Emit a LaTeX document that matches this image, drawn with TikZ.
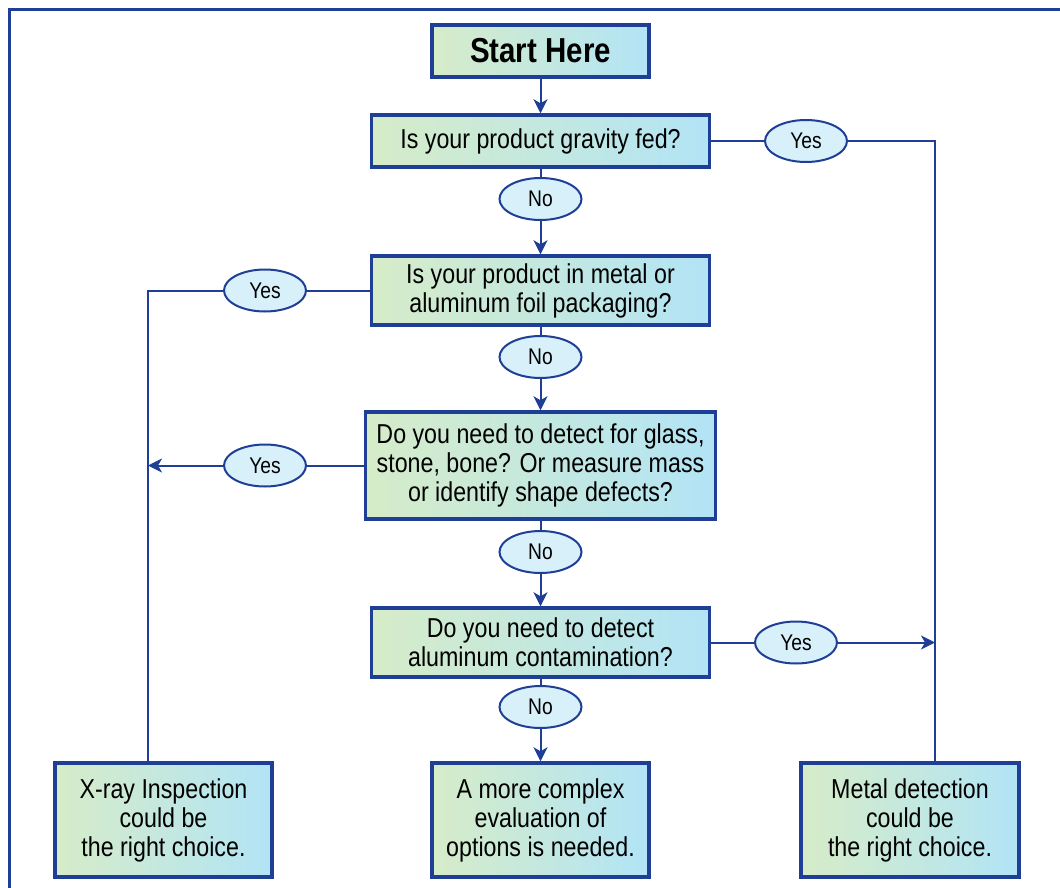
\documentclass[tikz,border=0pt]{standalone}
\usepackage{fontspec}
\setmainfont[FakeStretch=0.85]{Liberation Sans}
\usetikzlibrary{arrows.meta,shapes.geometric}
\definecolor{navy}{RGB}{31,62,150}
\definecolor{boxgreen}{RGB}{214,236,200}
\definecolor{boxblue}{RGB}{178,228,246}
\definecolor{ovalfill}{RGB}{216,240,250}
\tikzset{
  qbox/.style={draw=navy, line width=2.6pt, left color=boxgreen, right color=boxblue,
    shading angle=90, align=center, inner sep=0pt, text=black,
    font=\fontsize{20.5}{21.75}\selectfont},
  ans/.style={ellipse, draw=navy, line width=1.5pt, fill=ovalfill, inner sep=0pt,
    minimum width=61.5pt, minimum height=31.5pt, font=\fontsize{17}{20}\selectfont},
  link/.style={draw=navy, line width=1.5pt},
  arr/.style={link, -{Stealth[length=10.5pt,width=10.5pt,inset=3pt]}}
}
\begin{document}
\begin{tikzpicture}[x=0.75pt,y=-0.75pt]
\useasboundingbox (0,0) rectangle (1060,888);
\draw[navy, line width=2.2pt] (9.5,888) -- (9.5,9.5) -- (1060,9.5);

\node[qbox, minimum width=162.75pt, minimum height=39pt, font=\fontsize{26}{28}\selectfont\bfseries] (start) at (540.5,51) {Start Here};
\node[qbox, minimum width=253.5pt, minimum height=39pt] (q1) at (540.5,141) {Is your product gravity fed?};
\node[qbox, minimum width=253.5pt, minimum height=51.75pt] (q2) at (540.5,290.5) {Is your product in metal or\\aluminum foil packaging?};
\node[qbox, minimum width=262.5pt, minimum height=80.25pt] (q3) at (540.5,465.5) {Do you need to detect for glass,\\stone, bone? Or measure mass\\or identify shape defects?};
\node[qbox, minimum width=253.5pt, minimum height=51.75pt] (q4) at (540.5,642.5) {Do you need to detect\\aluminum contamination?};
\node[qbox, minimum width=162.75pt, minimum height=85.5pt] (xray) at (163.5,820) {X-ray Inspection\\could be\\ the right choice.};
\node[qbox, minimum width=162.75pt, minimum height=85.5pt] (complex) at (540.5,820) {A more complex\\evaluation of\\options is needed.};
\node[qbox, minimum width=163.5pt, minimum height=85.5pt] (metal) at (910,820) {Metal detection\\could be\\ the right choice.};

\node[ans] (yes1) at (806,141) {Yes};
\node[ans] (no1) at (540.5,199) {No};
\node[ans] (yes2) at (265,290.5) {Yes};
\node[ans] (no2) at (540.5,357) {No};
\node[ans] (yes3) at (265,465.5) {Yes};
\node[ans] (no3) at (540.5,552) {No};
\node[ans] (yes4) at (796,642.5) {Yes};
\node[ans] (no4) at (540.5,707) {No};

\coordinate (rc) at (935,141);
\coordinate (lc) at (148,290.5);

\draw[arr] (start) -- (q1);
\draw[link] (q1) -- (no1);
\draw[arr] (no1) -- (q2);
\draw[link] (q2) -- (no2);
\draw[arr] (no2) -- (q3);
\draw[link] (q3) -- (no3);
\draw[arr] (no3) -- (q4);
\draw[link] (q4) -- (no4);
\draw[arr] (no4) -- (complex);

\draw[link] (q1.east) -- (yes1);
\draw[link] (yes1) -- (rc) -- (rc |- metal.north);
\draw[link] (q2.west) -- (yes2);
\draw[link] (yes2) -- (lc) -- (lc |- xray.north);
\draw[link] (q3.west) -- (yes3);
\draw[arr] (yes3) -- (lc |- yes3);
\draw[link] (q4.east) -- (yes4);
\draw[arr] (yes4) -- (rc |- yes4);
\end{tikzpicture}
\end{document}
